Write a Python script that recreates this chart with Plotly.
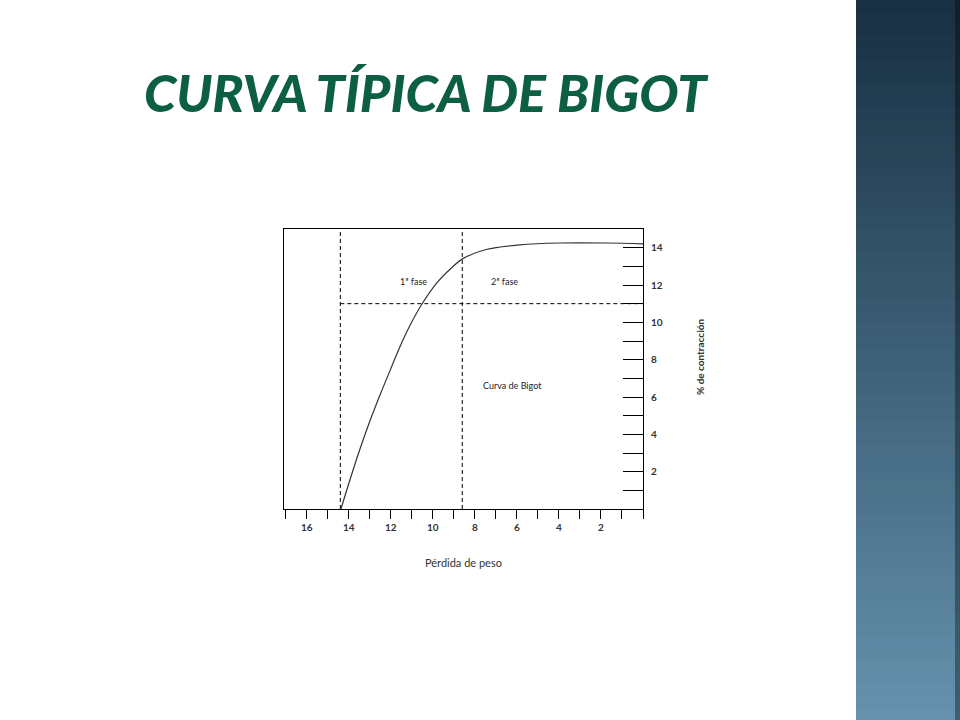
import numpy as np
import plotly.graph_objects as go

# datos de la curva
perdida_peso = [14.37, 13.96, 13.47, 12.98, 12.48, 12.04, 11.60, 11.10, 10.56,
                9.82, 9.13, 8.59, 7.46, 5.88, 3.91, 1.75, 0.0]
contraccion = [0, 1.5, 3.2, 4.75, 6.2, 7.4, 8.6, 9.8, 10.9,
               12.1, 12.9, 13.4, 13.9, 14.15, 14.25, 14.25, 14.2]

# limites de las fases
x_inicio = 14.4
x_fase = 8.6
y_fase = 11

x_ticks = [16, 14, 12, 10, 8, 6, 4, 2]
y_ticks = [2, 4, 6, 8, 10, 12, 14]

W, H = 960, 720
# area de trazado en pixeles
L, R, T, B = 284, 643, 229, 509


def px(x, y):
    # pixeles -> coordenadas paper
    return (x - L) / (R - L), (B - y) / (B - T)


fig = go.Figure()

# lineas de fase
dash = dict(color='black', width=1, dash='4px,3px')
fig.add_trace(go.Scatter(x=[x_inicio, x_inicio], y=[0, 15], mode='lines', line=dash, hoverinfo='skip'))
fig.add_trace(go.Scatter(x=[x_fase, x_fase], y=[0, 15], mode='lines', line=dash, hoverinfo='skip'))
fig.add_trace(go.Scatter(x=[x_inicio, 0], y=[y_fase, y_fase], mode='lines', line=dash, hoverinfo='skip'))

# curva de Bigot
fig.add_trace(go.Scatter(x=perdida_peso, y=contraccion, mode='lines', line_shape='spline',
                         line=dict(color='#333333', width=1.2)))

txt = dict(family='Lato, Open Sans, sans-serif', size=9, color='#222222')
fig.add_annotation(x=10.93, y=12.2, text='1ª fase', showarrow=False, font=txt)
fig.add_annotation(x=6.6, y=12.2, text='2ª fase', showarrow=False, font=txt)
fig.add_annotation(x=6.2, y=6.6, text='Curva de Bigot', showarrow=False, font=txt)

# titulos de ejes
ax, ay = px(463, 562)
fig.add_annotation(xref='paper', yref='paper', x=ax, y=ay, xanchor='center', yanchor='middle',
                   text='Pérdida de peso', showarrow=False,
                   font=dict(family='Lato, Open Sans, sans-serif', size=11, color='#333333'))
ax, ay = px(700, 357)
fig.add_annotation(xref='paper', yref='paper', x=ax, y=ay, xanchor='center', yanchor='middle',
                   text='<b>% de contracción</b>', textangle=-90, showarrow=False,
                   font=dict(family='Lato, Open Sans, sans-serif', size=10, color='#333333'))

# titulo
ax, ay = px(426, 92)
fig.add_annotation(xref='paper', yref='paper', x=ax, y=ay, xanchor='center', yanchor='middle',
                   text='<i>CURVA TÍPICA DE BIGOT</i>', showarrow=False,
                   font=dict(family='Lato, sans-serif', size=52, weight=900, color='#0d5f42'))

# banda lateral degradada
c0 = np.array([12, 37, 56])
c1 = np.array([94, 141, 170])
n = 60
x0, _ = px(856, 0)
x1, _ = px(962, 0)
for i in range(n):
    c = c0 + (c1 - c0) * (i + 0.5) / n
    _, ya = px(0, H * i / n)
    _, yb = px(0, H * (i + 1) / n + 0.5)
    fig.add_shape(type='rect', xref='paper', yref='paper', x0=x0, x1=x1, y0=yb, y1=ya,
                  fillcolor='rgb(%d,%d,%d)' % tuple(c), line_width=0, layer='below')

# rombos del fondo
h = 16.5
path = ''
for j in range(-1, 46):
    cy = j * h
    for k in range(0, 8):
        cx = 856 + k * h
        if (j + k) % 2:
            continue
        pts = [(cx, cy - h), (cx + h, cy), (cx, cy + h), (cx - h, cy)]
        if k == 0:
            pts = [(cx, cy - h), (cx + h, cy), (cx, cy + h)]
        pts = [px(a, b) for a, b in pts]
        path += 'M' + ' L'.join('%.5f,%.5f' % p for p in pts) + ' Z '
fig.add_shape(type='path', xref='paper', yref='paper', path=path,
              fillcolor='rgba(255,255,255,0.05)', line_width=0, layer='below')

xs, _ = px(955, 0)
_, ytop = px(0, 0)
_, ybot = px(0, H)
fig.add_shape(type='rect', xref='paper', yref='paper', x0=xs, x1=x1, y0=ybot, y1=ytop,
              fillcolor='rgba(0,0,0,0.35)', line_width=0, layer='below')

tick_font = dict(family='Lato, Open Sans, sans-serif', size=10, weight='bold', color='#333333')
fig.update_xaxes(range=[17.08, 0], tickvals=x_ticks, ticks='outside', ticklen=9, tickcolor='black',
                 minor=dict(dtick=1, tick0=0, ticks='outside', ticklen=9, tickcolor='black'),
                 showline=True, linecolor='black', linewidth=1, mirror=True,
                 showgrid=False, zeroline=False, tickfont=tick_font)
fig.update_yaxes(range=[0, 15], side='right', tickvals=y_ticks, ticks='inside', ticklen=20,
                 tickcolor='black',
                 minor=dict(dtick=1, tick0=0, ticks='inside', ticklen=20, tickcolor='black'),
                 showline=True, linecolor='black', linewidth=1, mirror=True,
                 showgrid=False, zeroline=False, ticklabelstandoff=5, tickfont=tick_font)

fig.update_layout(width=W, height=H, autosize=False, showlegend=False,
                  margin=dict(l=L, r=W - R, t=T, b=H - B),
                  plot_bgcolor='white', paper_bgcolor='white')

# sin margen en el body para que la figura ocupe toda la ventana
fig.write_html("out.html", config={'displayModeBar': False},
               post_script="document.body.style.margin='0';")
